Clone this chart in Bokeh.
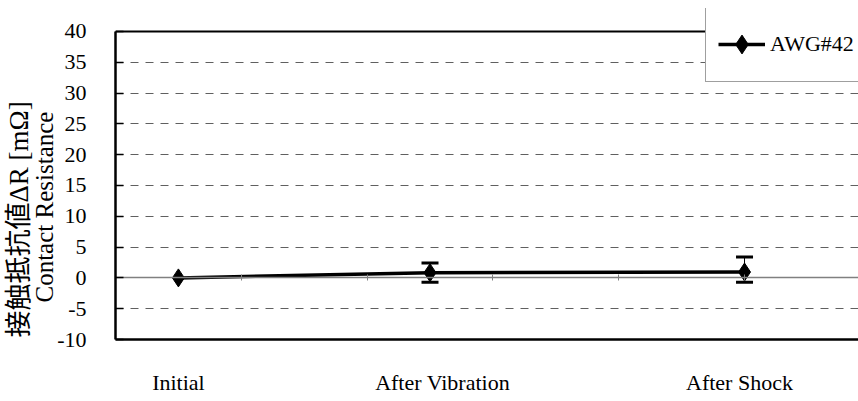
from bokeh.plotting import figure
from bokeh.models import (Range1d, LinearAxis, FixedTicker, SingleIntervalTicker,
                          Whisker, TeeHead, ColumnDataSource, Legend, LegendItem, Span,
                          Title, PrintfTickFormatter)
from bokeh.embed import file_html
from bokeh.resources import INLINE

# ---- data ----
categories = ["Initial", "After Vibration", "After Shock"]
x_pos = [0.5, 2.5, 5.0]
mean_dr = [0.0, 0.85, 0.95]
err_upper = [0.0, 2.4, 3.4]
err_lower = [0.0, -0.7, -0.7]
series_name = "AWG#42"
y_title_jp = "接触抵抗値ΔR [mΩ]"
y_title_en = "Contact Resistance"
y_min, y_max, y_step = -10, 40, 5

# label positions (layout)
label_x = [0.5, 2.6, 4.96]

SERIF = "Liberation Serif"
MIXED = "'Liberation Serif', 'Noto Sans CJK JP', serif"

p = figure(width=858, height=401, x_range=Range1d(0, 5.906), y_range=Range1d(y_min, 43.73),
           output_backend="svg", toolbar_location=None, x_axis_location=None,
           min_border_left=115, min_border_right=0, min_border_top=8, min_border_bottom=62)
p.outline_line_color = None
p.xgrid.visible = False

# main y axis
ya = p.yaxis[0]
ya.bounds = (y_min, y_max)
ya.ticker = SingleIntervalTicker(interval=y_step)
ya.formatter = PrintfTickFormatter(format="%d")
ya.axis_line_color = "black"
ya.axis_line_width = 2.5
ya.major_tick_in = 8
ya.major_tick_out = 0
ya.major_tick_line_color = "black"
ya.major_tick_line_width = 1.5
ya.minor_tick_line_color = None
ya.major_label_standoff = 25
ya.major_label_text_font = SERIF
ya.major_label_text_font_size = "22px"
ya.major_label_text_color = "black"

# y titles (two lines, placed as side titles)
p.add_layout(Title(text=y_title_en, align="left", offset=37, standoff=-8,
                   vertical_align="middle",
                   text_font=SERIF, text_font_size="25px", text_font_style="normal",
                   text_color="black"), "left")
p.add_layout(Title(text=y_title_jp, align="left", offset=2, standoff=0,
                   vertical_align="bottom",
                   text_font=MIXED, text_font_size="27px", text_font_style="normal",
                   text_color="black"), "left")

p.ygrid.ticker = SingleIntervalTicker(interval=y_step)
p.ygrid.grid_line_color = "#606060"
p.ygrid.grid_line_dash = "8 7"
p.ygrid.grid_line_width = 1

# category labels axis at bottom
cat_axis = LinearAxis(ticker=FixedTicker(ticks=label_x),
                      major_label_overrides={lx: c for lx, c in zip(label_x, categories)})
cat_axis.axis_line_color = "black"
cat_axis.axis_line_width = 2.5
cat_axis.major_tick_line_color = None
cat_axis.minor_tick_line_color = None
cat_axis.major_tick_in = 0
cat_axis.major_tick_out = 0
cat_axis.major_label_standoff = 30
cat_axis.major_label_text_font = SERIF
cat_axis.major_label_text_font_size = "22px"
cat_axis.major_label_text_color = "black"
p.add_layout(cat_axis, "below")

# zero axis line with ticks
zero_axis = LinearAxis(fixed_location=0, ticker=SingleIntervalTicker(interval=1))
zero_axis.axis_line_color = "#808080"
zero_axis.axis_line_width = 1.5
zero_axis.major_tick_in = 3
zero_axis.major_tick_out = 3
zero_axis.major_tick_line_color = "#808080"
zero_axis.minor_tick_line_color = None
zero_axis.major_label_text_font_size = "0px"
zero_axis.major_label_text_color = None
p.add_layout(zero_axis, "below")

# top border of plot area
p.add_layout(Span(location=y_max, dimension="width", line_color="black", line_width=2))

# error bars
idx = [i for i in range(len(x_pos)) if err_upper[i] > err_lower[i]]
err_src = ColumnDataSource(dict(x=[x_pos[i] for i in idx],
                                upper=[err_upper[i] for i in idx],
                                lower=[err_lower[i] for i in idx]))
wh = Whisker(source=err_src, base="x", upper="upper", lower="lower", dimension="height",
             line_color="black", line_width=1,
             upper_head=TeeHead(size=17, line_width=3, line_color="black"),
             lower_head=TeeHead(size=17, line_width=3, line_color="black"))
p.add_layout(wh)

line_r = p.line(x_pos, mean_dr, line_color="black", line_width=3.5)
scat_r = p.scatter(x_pos, mean_dr, marker="diamond", size=18, color="black")

legend = Legend(items=[LegendItem(label=series_name, renderers=[line_r, scat_r])],
                location=(590, 257), glyph_width=47, glyph_height=50, padding=12,
                label_standoff=5, margin=0, spacing=0,
                border_line_color="#404040", border_line_width=1,
                label_text_font=SERIF, label_text_font_size="22px",
                label_text_color="black", background_fill_alpha=1)
p.add_layout(legend)

open("out.html", "w").write(file_html(p, INLINE))
